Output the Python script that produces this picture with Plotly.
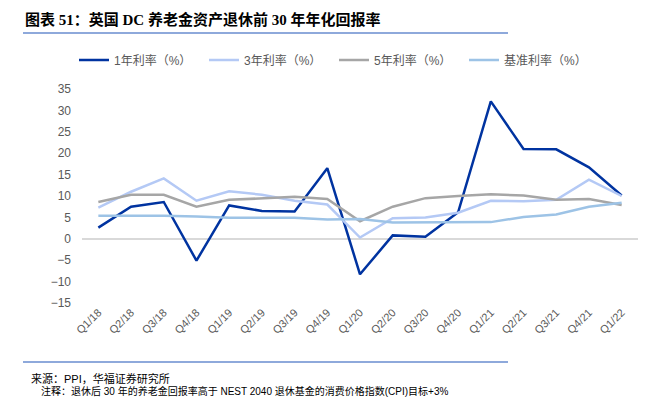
import plotly.graph_objects as go

quarters = ["Q1/18", "Q2/18", "Q3/18", "Q4/18", "Q1/19", "Q2/19", "Q3/19", "Q4/19",
            "Q1/20", "Q2/20", "Q3/20", "Q4/20", "Q1/21", "Q2/21", "Q3/21", "Q4/21", "Q1/22"]
rate_1y = [2.6, 7.5, 8.6, -5.1, 7.8, 6.5, 6.4, 16.5, -8.3, 0.8, 0.5, 6.2, 32.1, 21.0, 20.9, 16.7, 10.1]
rate_3y = [7.3, 11.0, 14.1, 8.9, 11.1, 10.3, 8.9, 8.0, 0.3, 4.8, 5.0, 6.1, 8.9, 8.8, 9.1, 13.8, 10.0]
rate_5y = [8.6, 10.3, 10.3, 7.5, 9.1, 9.4, 9.8, 9.3, 4.1, 7.5, 9.5, 10.0, 10.4, 10.1, 9.1, 9.3, 7.9]
rate_base = [5.4, 5.4, 5.4, 5.2, 4.9, 4.9, 4.9, 4.5, 4.6, 3.8, 3.8, 3.8, 3.9, 5.1, 5.7, 7.5, 8.4]

series = [
    ("1年利率（%）", rate_1y, "#0033A0"),
    ("3年利率（%）", rate_3y, "#B4C9F5"),
    ("5年利率（%）", rate_5y, "#A6A6A6"),
    ("基准利率（%）", rate_base, "#9DC3E6"),
]

FONT = "Liberation Sans, Noto Sans CJK SC, sans-serif"

def px_x(x):
    return (x - 82) / 556

def px_y(y):
    return (303 - y) / 214

fig = go.Figure()
for name, vals, color in series:
    fig.add_trace(go.Scatter(x=quarters, y=vals, name=name, mode="lines",
                             line=dict(color=color, width=2.5)))

fig.update_layout(
    width=666, height=398,
    margin=dict(l=82, r=28, t=89, b=95, autoexpand=False),
    paper_bgcolor="white", plot_bgcolor="white",
    font=dict(family=FONT, size=12, color="#595959"),
    showlegend=True,
    legend=dict(orientation="h", x=px_x(74), xanchor="left", y=px_y(60), yanchor="middle",
                font=dict(size=12, color="#595959"),
                entrywidth=85, entrywidthmode="pixels", itemwidth=30),
    xaxis=dict(type="category", range=[-0.5, 16.5], showgrid=False, showline=False,
               zeroline=False, tickangle=-45, tickfont=dict(size=11, color="#595959"),
               ticks=""),
    yaxis=dict(range=[-15, 35], dtick=5, showgrid=False, showline=False,
               zeroline=True, zerolinecolor="#D9D9D9", zerolinewidth=1.5,
               tickfont=dict(size=12, color="#595959"), ticklabelstandoff=10),
)

fig.add_annotation(text="<b>图表 51：英国 DC 养老金资产退休前 30 年年化回报率</b>",
                   xref="paper", yref="paper", x=px_x(23), y=px_y(19),
                   xanchor="left", yanchor="middle", showarrow=False,
                   font=dict(family="Liberation Serif, Noto Sans CJK SC, serif", size=15, color="#000000"))

fig.add_shape(type="line", xref="paper", yref="paper", x0=px_x(23), x1=px_x(508),
              y0=px_y(33), y1=px_y(33), line=dict(color="#8EA9DB", width=2))
fig.add_shape(type="line", xref="paper", yref="paper", x0=px_x(23), x1=px_x(508),
              y0=px_y(362), y1=px_y(362), line=dict(color="#8EA9DB", width=2))

fig.add_annotation(text="来源：PPI，华福证券研究所", xref="paper", yref="paper",
                   x=px_x(29), y=px_y(378), xanchor="left", yanchor="middle", showarrow=False,
                   font=dict(family=FONT, size=11, color="#000000"))
fig.add_annotation(text="注释：退休后 30 年的养老金回报率高于 NEST 2040 退休基金的消费价格指数(CPI)目标+3%",
                   xref="paper", yref="paper",
                   x=px_x(39), y=px_y(391), xanchor="left", yanchor="middle", showarrow=False,
                   font=dict(family=FONT, size=10, color="#000000"))

fig.write_html("out.html", config={"displayModeBar": False},
               post_script="document.body.style.margin='0';document.body.style.overflow='hidden';")
